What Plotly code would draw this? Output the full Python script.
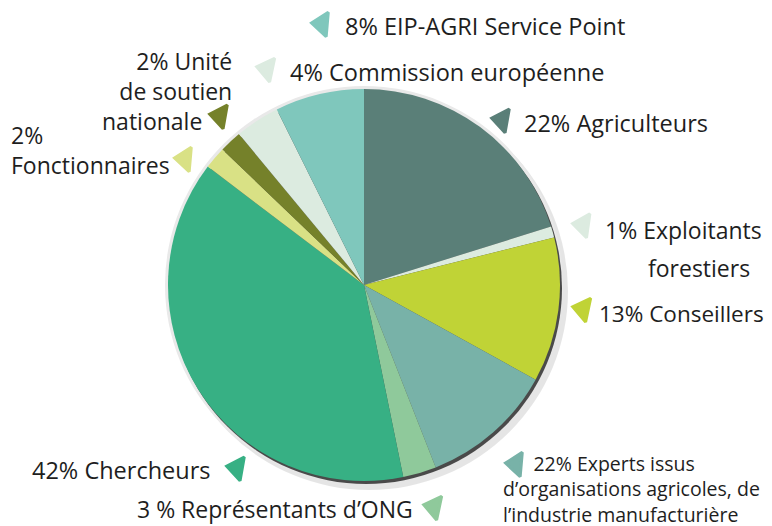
import plotly.graph_objects as go

# ---- data ----
categories = ["Agriculteurs", "Exploitants forestiers", "Conseillers",
              "Experts issus d'organisations agricoles, de l'industrie manufacturière",
              "Représentants d'ONG", "Chercheurs", "Fonctionnaires",
              "Unité de soutien nationale", "Commission européenne", "EIP-AGRI Service Point"]
values = [22, 1, 13, 12, 3, 42, 2, 2, 4, 8]
colors = ["#5a7f78", "#dcebe0", "#c0d336", "#78b2a8", "#8fc99b",
          "#37b084", "#d9e185", "#75812a", "#dcebe0", "#7fc7bc"]

# label texts as printed on the chart
NB = "&nbsp;"
label_agri = "22% Agriculteurs"
label_expl = ["1% Exploitants", "forestiers"]
label_cons = "13% Conseillers"
label_expe = NB * 6 + "22% Experts issus<br>d’organisations agricoles, de<br>l’industrie manufacturière"
label_ong = "3 % Représentants d’ONG"
label_cher = "42% Chercheurs"
label_fonc = "2%<br>Fonctionnaires"
label_unit = "2% Unité<br>de soutien<br>nationale" + NB * 5
label_comm = "4% Commission européenne"
label_eip = "8% EIP-AGRI Service Point"

# the page body has an 8px margin: the figure starts at screen pixel (8, 8)
OFF = 8
SW, SH = 772, 526
W, H = SW - OFF, SH - OFF
CX, CY, R = 364, 285, 196   # screen pixel centre / radius of the pie

fig = go.Figure()

fig.add_trace(go.Pie(
    values=values, labels=categories, sort=False, direction="clockwise",
    rotation=0, textinfo="none", hoverinfo="label+percent",
    marker=dict(colors=colors, line=dict(width=0)),
    domain=dict(x=[(CX - OFF - R) / W, (CX - OFF + R) / W],
                y=[(SH - CY - R) / H, (SH - CY + R) / H]),
    showlegend=False,
))

# triangle markers next to each label (screen pixel positions)
tri_x = [502, 583, 583, 516, 434, 237, 185, 220, 267, 322]
tri_y = [120, 225, 309, 464, 507, 468, 159, 116, 69, 24]
tri_angle = [10, 8, 12, 5, 12, 10, 5, 10, 12, 5]
fig.add_trace(go.Scatter(
    x=tri_x, y=tri_y, mode="markers", hoverinfo="skip", showlegend=False,
    marker=dict(symbol="triangle-left", size=21, color=colors, angle=tri_angle,
                line=dict(color=colors, width=3)),
))

FONT = "Open Sans"
TXT = "#1e1e1e"

def ann(x, y, text, xanchor="left", size=23.5, align="left"):
    fig.add_annotation(x=x, y=y, xref="x", yref="y", text=text, showarrow=False,
                       xanchor=xanchor, yanchor="middle", align=align,
                       font=dict(family=FONT, size=size, color=TXT))

ann(522, 123, label_agri)
ann(603, 230, label_expl[0], size=23)
ann(646, 268, label_expl[1], size=23)
ann(597, 313, label_cons, size=22.5)
ann(501, 489, label_expe, size=19.5)
ann(135, 509, label_ong, size=23)
ann(30, 470, label_cher)
ann(9, 150, label_fonc, size=23)
ann(234, 91, label_unit, xanchor="right", align="right", size=23)
ann(288, 72, label_comm)
ann(343, 26, label_eip)

# pie shadow / rim
fig.add_shape(type="circle", xref="x", yref="y", layer="below",
              x0=CX + 5 - R - 3, x1=CX + 5 + R + 3, y0=CY + 6 - R - 3, y1=CY + 6 + R + 3,
              fillcolor="rgba(0,0,0,0.10)", line=dict(width=0))
fig.add_shape(type="circle", xref="x", yref="y", layer="below",
              x0=CX - R - 3, x1=CX + R + 3, y0=CY - R - 3, y1=CY + R + 3,
              fillcolor="#e9e9e9", line=dict(width=0))
fig.add_shape(type="circle", xref="x", yref="y", layer="below",
              x0=CX + 2 - R, x1=CX + 2 + R, y0=CY + 3 - R, y1=CY + 3 + R,
              fillcolor="#4a4a4a", line=dict(width=0))

fig.update_layout(
    width=W, height=H, margin=dict(l=0, r=0, t=0, b=0),
    paper_bgcolor="white", plot_bgcolor="white",
    xaxis=dict(range=[OFF, SW], visible=False, fixedrange=True),
    yaxis=dict(range=[SH, OFF], visible=False, fixedrange=True),
)

fig.write_html("out.html")
